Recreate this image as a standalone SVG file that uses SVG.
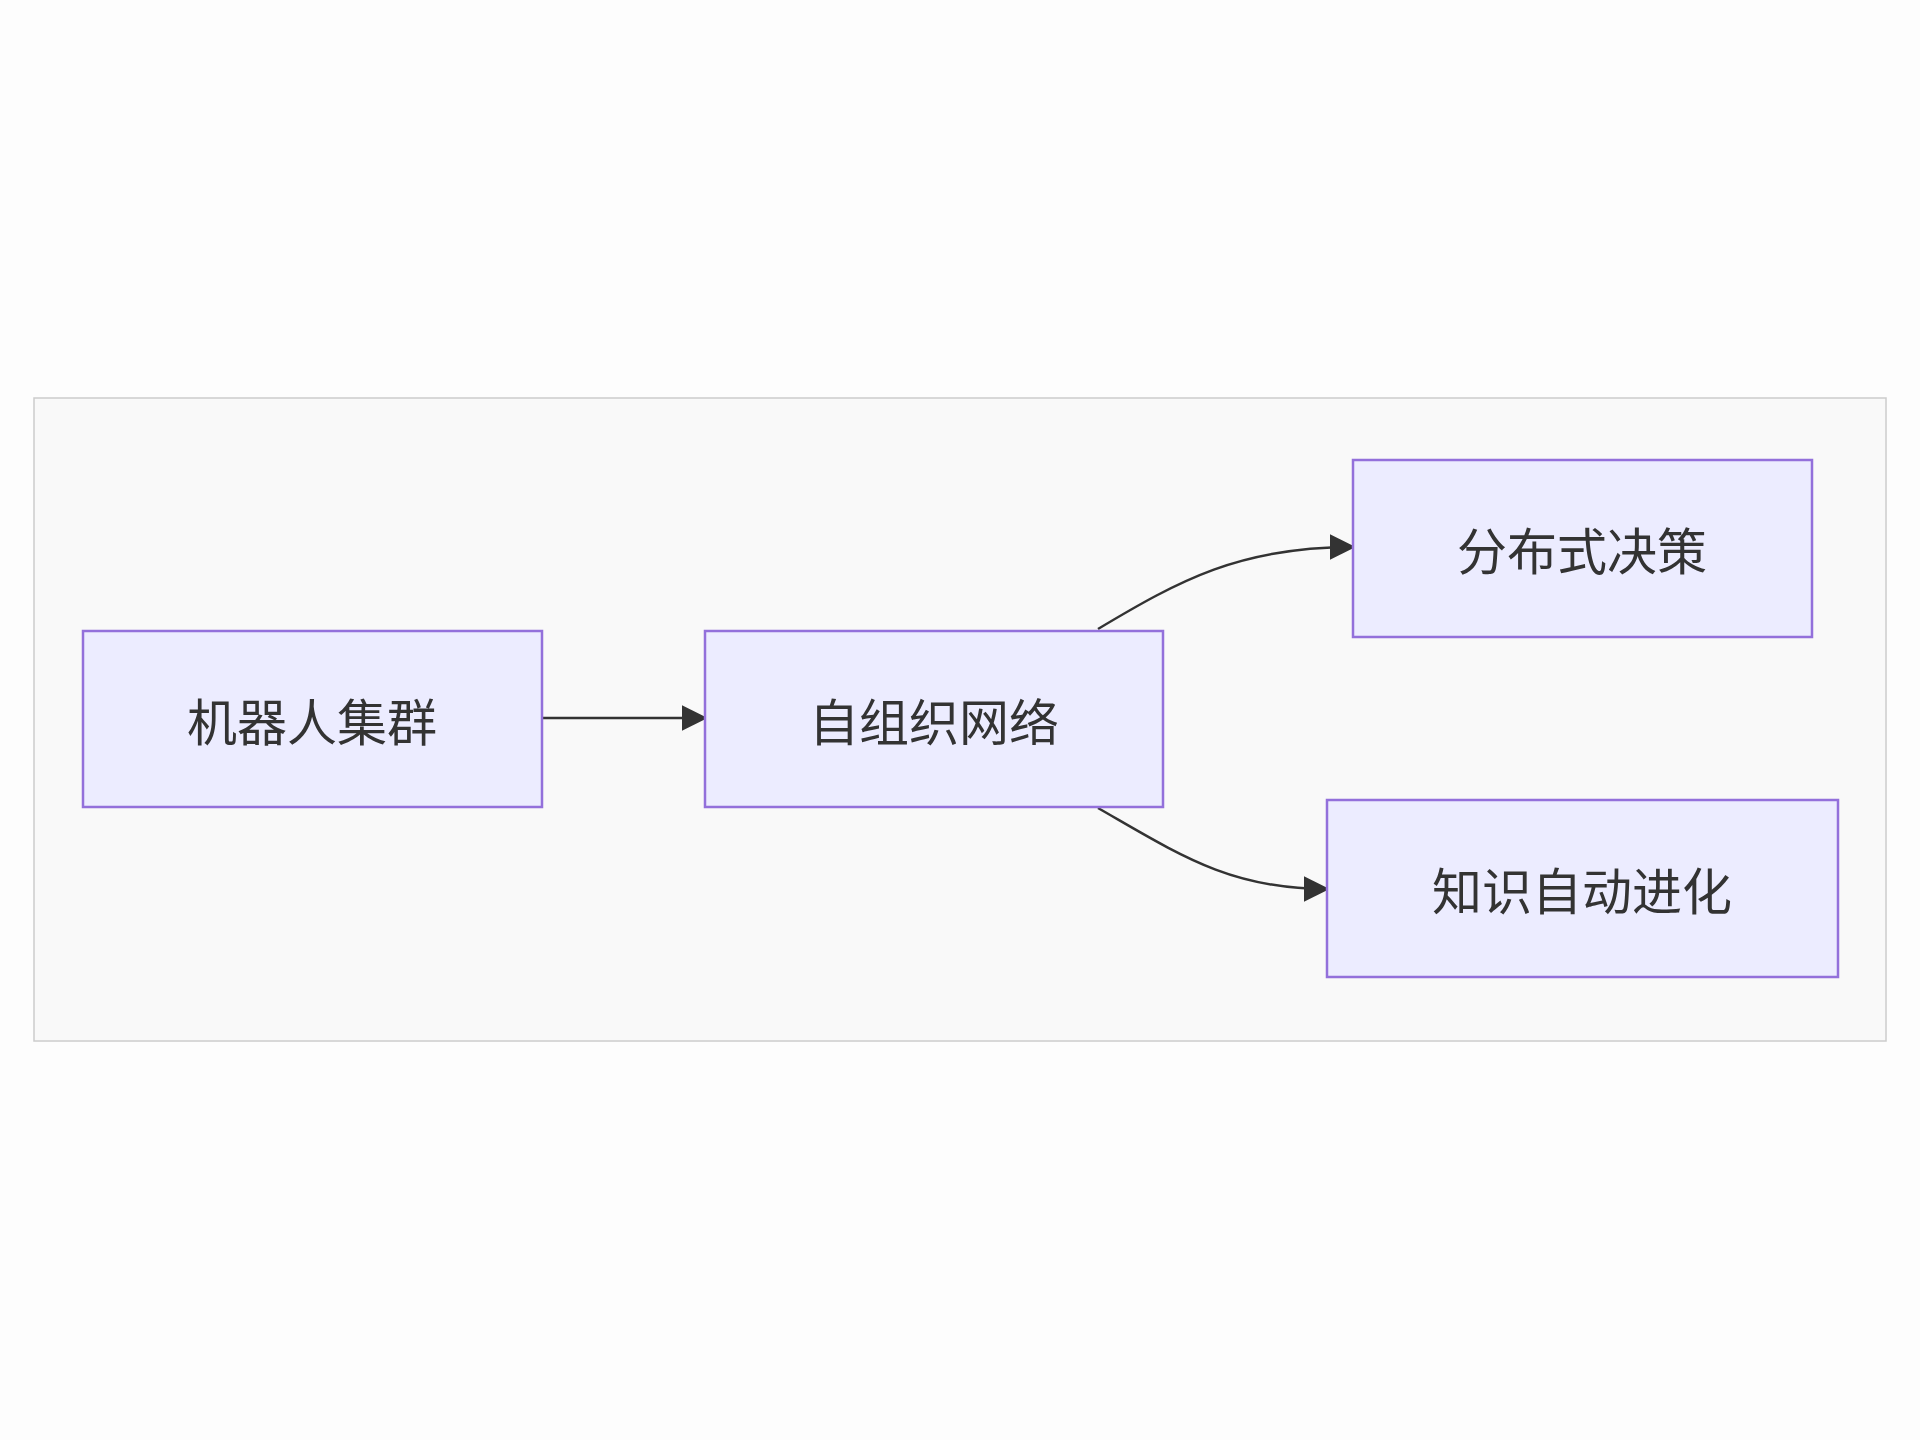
<svg xmlns="http://www.w3.org/2000/svg" width="1920" height="1440" viewBox="0 0 1920 1440">
<style>
.n rect{fill:#ECECFF;stroke:#9370DB;stroke-width:2.5}
.n text{font-family:"Noto Sans CJK SC","Liberation Sans",sans-serif;font-size:50px;fill:#333;text-anchor:middle;dominant-baseline:central}
.e path{fill:none;stroke:#333;stroke-width:2.5}
</style>
<defs><marker id="a" viewBox="0 0 10 10" refX="10" refY="5" markerWidth="10" markerHeight="10" markerUnits="userSpaceOnUse" orient="auto"><path d="M0,0L10,5L0,10z" fill="#333"/></marker>
<marker id="b" viewBox="0 0 10 10" refX="9" refY="5" markerWidth="26" markerHeight="26" markerUnits="userSpaceOnUse" orient="auto"><path d="M0,0L10,5L0,10z" fill="#333"/></marker></defs>
<rect width="1920" height="1440" fill="#fdfdfd"/>
<rect x="34" y="398" width="1852" height="643" fill="#f9f9f9" stroke="#ccc" stroke-width="1.5"/>
<g class="e">
<path d="M542,718 H705" marker-end="url(#b)"/>
<path d="M1098,629 C1180,580 1240,547 1353,547" marker-end="url(#b)"/>
<path d="M1098,808 C1180,855 1230,889 1327,889" marker-end="url(#b)"/>
</g>
<g id="n1" class="n"><rect x="83" y="631" width="459" height="176"/><text x="312" y="719">机器人集群</text></g>
<g id="n2" class="n"><rect x="705" y="631" width="458" height="176"/><text x="934" y="719">自组织网络</text></g>
<g id="n3" class="n"><rect x="1353" y="460" width="459" height="177"/><text x="1582" y="548">分布式决策</text></g>
<g id="n4" class="n"><rect x="1327" y="800" width="511" height="177"/><text x="1582" y="888">知识自动进化</text></g>
</svg>
